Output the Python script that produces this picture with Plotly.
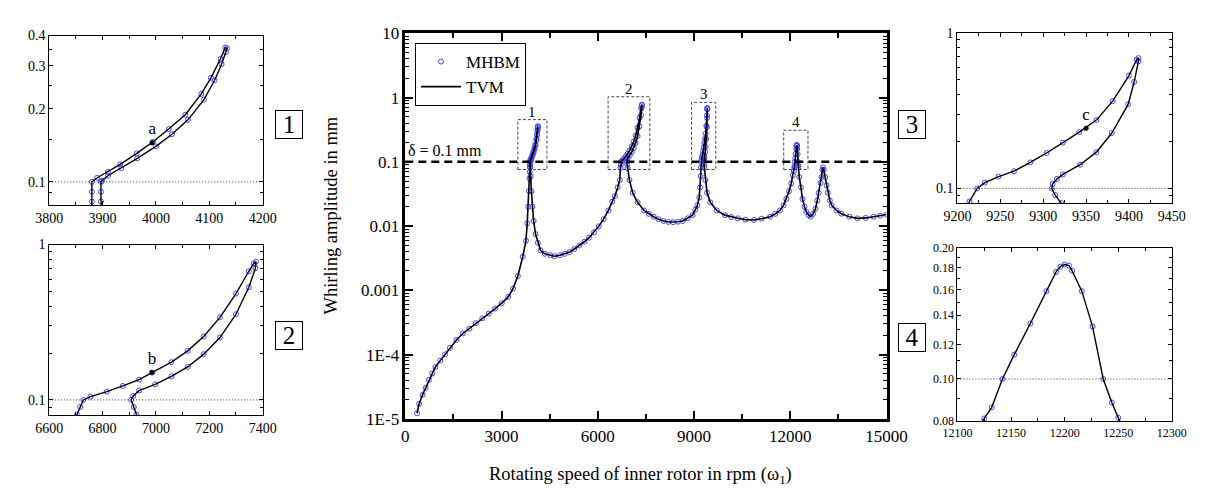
import math
import plotly.graph_objects as go

# ---------------- data ----------------
# one continuous response path (with the hysteresis loops near the peaks)
speed_rpm = [
    363, 432, 535, 635, 736, 837, 938, 1089, 1240, 1391, 1593, 1794, 1996, 2198,
    2399, 2601, 2803, 3004, 3206, 3357, 3508, 3659, 3760, 3800, 3830, 3855, 3870,
    3878, 3880, 3880, 3880,
    # loop 1
    3890, 3910, 3933, 3964, 3994, 4024, 4055, 4085, 4103, 4121, 4130, 4133,
    4131, 4123, 4110, 4090, 4060, 4030, 4000, 3965, 3935, 3910, 3899, 3897, 3897, 3897,
    # valley 1-2
    3905, 3930, 3960, 4000, 4060, 4130, 4214, 4350, 4516, 4650, 4818, 4970, 5121,
    5270, 5423, 5580, 5726, 5880, 6028, 6180, 6330, 6450, 6532, 6620, 6683, 6704, 6716,
    # loop 2
    6728, 6755, 6816, 6876, 6937, 6985, 7058, 7119, 7179, 7240, 7300, 7348, 7367, 7375,
    7373, 7348, 7300, 7240, 7179, 7119, 7058, 6997, 6937, 6915, 6907, 6917, 6927,
    # valley 2-3
    6985, 7086, 7238, 7440, 7590, 7742, 7890, 8044, 8200, 8347, 8500, 8649, 8800,
    8952, 9040, 9103, 9160, 9190, 9205, 9214,
    # loop 3
    9223, 9232, 9248, 9266, 9285, 9304, 9323, 9342, 9362, 9381, 9400, 9409, 9411,
    9411, 9406, 9399, 9380, 9362, 9343, 9323, 9316, 9311, 9310, 9314, 9321,
    # valley 3-4
    9354, 9405, 9506, 9708, 9960, 10160, 10363, 10600, 10867, 11100, 11371, 11530,
    11673, 11790, 11875, 11960, 12026, 12080, 12110, 12125,
    # peak 4
    12132, 12142, 12153, 12168, 12183, 12192, 12196, 12200, 12204, 12207, 12216,
    12226, 12236, 12244, 12250,
    # peak 5 and tail
    12278, 12330, 12379, 12440, 12500, 12570, 12633, 12710, 12784, 12840, 12885,
    12940, 12966, 13000, 13015, 13040, 13086, 13130, 13167, 13230, 13288, 13440,
    13590, 13840, 14093, 14350, 14597, 14800, 15000,
]
amplitude_mm = [
    1.22e-5, 1.71e-5, 2.36e-5, 3.03e-5, 4.04e-5, 5.08e-5, 6.4e-5, 8.05e-5, 1.01e-4,
    1.27e-4, 1.69e-4, 2.13e-4, 2.53e-4, 3.08e-4, 3.66e-4, 4.34e-4, 5.2e-4, 6.3e-4,
    7.9e-4, 1.06e-3, 1.67e-3, 3.33e-3, 5.9e-3, 0.011, 0.02, 0.035, 0.055,
    0.07, 0.083, 0.091, 0.1,
    # loop 1
    0.104, 0.110, 0.118, 0.131, 0.146, 0.165, 0.189, 0.230, 0.268, 0.321, 0.357, 0.355,
    0.342, 0.305, 0.262, 0.218, 0.180, 0.157, 0.140, 0.125, 0.114, 0.106, 0.101, 0.1, 0.091, 0.083,
    # valley 1-2
    0.06, 0.035, 0.02, 0.012, 0.0075, 0.0055, 0.0042, 0.0037, 0.00352, 0.0034, 0.00352,
    0.0037, 0.00395, 0.0044, 0.00498, 0.0057, 0.0066, 0.0080, 0.0099, 0.0128, 0.0175,
    0.024, 0.0293, 0.040, 0.052, 0.0805, 0.09,
    # loop 2
    0.1, 0.105, 0.113, 0.123, 0.135, 0.150, 0.175, 0.207, 0.256, 0.34, 0.483, 0.673, 0.757, 0.775,
    0.705, 0.531, 0.356, 0.252, 0.197, 0.163, 0.142, 0.126, 0.115, 0.106, 0.1, 0.09, 0.0805,
    # valley 2-3
    0.052, 0.033, 0.0234, 0.0175, 0.0155, 0.014, 0.0128, 0.012, 0.0116, 0.0115, 0.0117,
    0.012, 0.0132, 0.0148, 0.018, 0.021, 0.028, 0.040, 0.060, 0.0824,
    # loop 3
    0.1, 0.109, 0.119, 0.129, 0.147, 0.169, 0.197, 0.23, 0.275, 0.364, 0.531, 0.673, 0.689,
    0.655, 0.483, 0.347, 0.227, 0.171, 0.142, 0.123, 0.115, 0.107, 0.1, 0.0906, 0.0805,
    # valley 3-4
    0.052, 0.033, 0.0234, 0.0175, 0.0148, 0.0138, 0.0132, 0.0126, 0.01245, 0.0130, 0.014,
    0.0155, 0.0175, 0.021, 0.0264, 0.035, 0.046, 0.062, 0.072, 0.0812,
    # peak 4
    0.0861, 0.1, 0.1137, 0.134, 0.159, 0.176, 0.181, 0.183, 0.182, 0.177, 0.159,
    0.132, 0.1, 0.0883, 0.0815,
    # peak 5 and tail
    0.058, 0.040, 0.0264, 0.020, 0.0166, 0.0148, 0.014, 0.0155, 0.0186, 0.025, 0.033,
    0.047, 0.058, 0.075, 0.082, 0.075, 0.058, 0.043, 0.033, 0.025, 0.021, 0.0175,
    0.0156, 0.014, 0.0132, 0.0134, 0.014, 0.0145, 0.0151,
]

point_names = ["a", "b", "c"]
point_speed = [3993, 6985, 9350]
point_amp = [0.145, 0.150, 0.244]

delta_mm = 0.1
series_names = ["MHBM", "TVM"]

main_x_ticks = [0, 3000, 6000, 9000, 12000, 15000]
main_y_tickvals = [1e-5, 1e-4, 1e-3, 1e-2, 1e-1, 1, 10]
main_y_ticktext = ["1E-5", "1E-4", "0.001", "0.01", "0.1", "1", "10"]

# ---------------- layout helpers ----------------
W, H = 1213, 491
FONT = "Liberation Serif"
BLUE = "rgb(70,70,255)"


def pxx(x):
    return x / W


def pxy(y):
    return 1 - y / H


fig = go.Figure()

axes = ["", "2", "3", "4", "5"]
for i, s in enumerate(axes):
    main = (s == "")
    fig.add_trace(go.Scatter(
        x=speed_rpm, y=amplitude_mm, mode="markers", name=series_names[0],
        marker=dict(symbol="circle-open", size=5, color=BLUE, line=dict(width=1)),
        xaxis="x" + s, yaxis="y" + s, showlegend=main, hoverinfo="skip"))
    fig.add_trace(go.Scatter(
        x=speed_rpm, y=amplitude_mm, mode="lines", name=series_names[1],
        line=dict(color="black", width=1.6 if main else 1.4),
        xaxis="x" + s, yaxis="y" + s, showlegend=main, hoverinfo="skip"))

# labelled points a, b, c
for name, xs, ys, ax in zip(point_names, point_speed, point_amp, ["2", "3", "4"]):
    fig.add_trace(go.Scatter(
        x=[xs], y=[ys], mode="markers+text", text=[name], textposition="top center",
        textfont=dict(family=FONT, size=17, color="black"),
        marker=dict(size=5, color="black"), xaxis="x" + ax, yaxis="y" + ax,
        showlegend=False, hoverinfo="skip"))

common = dict(showgrid=False, zeroline=False, showline=True, linecolor="black",
              mirror="allticks", ticks="inside", tickcolor="black")


def log_minor(decades):
    vals = []
    for e in decades:
        for k in range(2, 10):
            vals.append(k * 10 ** e)
    return vals


layout = dict(
    width=W, height=H, margin=dict(l=0, r=0, t=0, b=0), autosize=False,
    plot_bgcolor="white", paper_bgcolor="white",
    font=dict(family=FONT, color="black"),
    showlegend=True,
    legend=dict(x=pxx(404), y=pxy(27), xanchor="left", yanchor="top",
                bordercolor="black", borderwidth=1, bgcolor="white",
                font=dict(family=FONT, size=17), itemwidth=40, tracegroupgap=0),
)

# main axes
layout["xaxis"] = dict(common, domain=[pxx(394), pxx(890)], range=[0, 15000],
                       tickvals=main_x_ticks, ticktext=[str(v) for v in main_x_ticks],
                       ticklen=8, tickwidth=2, linewidth=2.5,
                       tickfont=dict(family=FONT, size=17, color="black"), anchor="y",
                       minor=dict(tickvals=[1500, 4500, 7500, 10500, 13500],
                                  ticklen=5, tickwidth=1.5, ticks="inside", tickcolor="black"))
layout["yaxis"] = dict(common, domain=[pxy(418), pxy(17)], type="log", range=[-5, 1],
                       tickvals=main_y_tickvals, ticktext=main_y_ticktext,
                       ticklen=8, tickwidth=2, linewidth=2.5,
                       tickfont=dict(family=FONT, size=17, color="black"),
                       anchor="x",
                       minor=dict(tickvals=log_minor(range(-5, 1)), ticklen=4, tickwidth=1.2,
                                  ticks="inside", tickcolor="black"))

panel_specs = [
    # suffix, x px, y px, x range, x ticks, x minor, y range, y ticks, y text, y minor, font
    ("2", (27, 247), (19.3, 196), (3800, 4200), list(range(3800, 4201, 100)),
     list(range(3850, 4200, 100)), (0.08, 0.4), [0.1, 0.2, 0.3, 0.4],
     ["0.1", "0.2", "0.3", "0.4"], [0.09, 0.15, 0.25, 0.35], 14),
    ("3", (27, 247), (236.7, 414), (6600, 7400), list(range(6600, 7401, 200)),
     list(range(6700, 7400, 200)), (0.08, 1.0), [0.1, 1.0], ["0.1", "1"],
     [0.09] + [k / 10 for k in range(2, 10)], 14),
    ("4", (963, 1184), (16.5, 194), (9200, 9450), list(range(9200, 9451, 50)),
     list(range(9225, 9450, 50)), (0.08, 1.0), [0.1, 1.0], ["0.1", "1"],
     [0.09] + [k / 10 for k in range(2, 10)], 14),
    ("5", (963, 1184), (240, 420.5), (12100, 12300), list(range(12100, 12301, 50)),
     list(range(12125, 12300, 50)), (0.08, 0.2), [0.08, 0.10, 0.12, 0.14, 0.16, 0.18, 0.20],
     ["0.08", "0.10", "0.12", "0.14", "0.16", "0.18", "0.20"],
     [0.09, 0.11, 0.13, 0.15, 0.17, 0.19], 12),
]

shapes = []
for (s, xp, yp, xr, xt, xm, yr, yt, ytxt, ym, fs) in panel_specs:
    layout["xaxis" + s] = dict(common, domain=[pxx(xp[0]), pxx(xp[1])], range=list(xr),
                               tickvals=xt, ticktext=[str(v) for v in xt],
                               ticklen=4, tickwidth=1, linewidth=1,
                               tickfont=dict(family=FONT, size=fs, color="black"),
                               anchor="y" + s,
                               minor=dict(tickvals=xm, ticklen=3, tickwidth=1,
                                          ticks="inside", tickcolor="black"))
    layout["yaxis" + s] = dict(common, domain=[pxy(yp[1]), pxy(yp[0])], type="log",
                               range=[math.log10(yr[0]), math.log10(yr[1])],
                               tickvals=yt, ticktext=ytxt, ticklen=4, tickwidth=1,
                               linewidth=1,
                               tickfont=dict(family=FONT, size=fs, color="black"),
                               anchor="x" + s,
                               minor=dict(tickvals=ym, ticklen=3, tickwidth=1,
                                          ticks="inside", tickcolor="black"))
    shapes.append(dict(type="line", xref="x" + s + " domain", yref="y" + s,
                       x0=0, x1=1, y0=delta_mm, y1=delta_mm,
                       line=dict(color="black", width=0.8, dash="1px,2px")))

# threshold line in main plot
shapes.append(dict(type="line", xref="x domain", yref="y", x0=0, x1=1,
                   y0=delta_mm, y1=delta_mm,
                   line=dict(color="black", width=2.5, dash="8px,5px")))

# zoom boxes in main plot (speed range, amplitude range)
zoom_boxes = [
    ("1", (3508, 4415), (0.076, 0.454)),
    ("2", (6320, 7621), (0.076, 1.03)),
    ("3", (8921, 9677), (0.076, 0.842)),
    ("4", (11794, 12550), (0.076, 0.31)),
]
annotations = []
for lab, (x0, x1), (y0, y1) in zoom_boxes:
    shapes.append(dict(type="rect", xref="x", yref="y", x0=x0, x1=x1, y0=y0, y1=y1,
                       line=dict(color="#444", width=1, dash="3px,2px")))
    annotations.append(dict(xref="x", yref="y", x=(x0 + x1) / 2, y=math.log10(y1),
                            text=lab, showarrow=False, yanchor="bottom", yshift=-2,
                            font=dict(family=FONT, size=15)))

layout["shapes"] = shapes

annotations += [
    dict(xref="paper", yref="paper", x=pxx(317), y=pxy(207), text="Whirling amplitude in mm",
         textangle=-90, showarrow=False, font=dict(family=FONT, size=18.5),
         xanchor="center", yanchor="middle"),
    dict(xref="paper", yref="paper", x=pxx(636), y=pxy(477),
         text="Rotating speed of inner rotor in rpm (ω<sub>1</sub>)",
         showarrow=False, font=dict(family=FONT, size=18.5),
         xanchor="center", yanchor="middle"),
    dict(xref="paper", yref="paper", x=pxx(435), y=pxy(139), text="δ = 0.1 mm",
         showarrow=False, font=dict(family=FONT, size=16), xanchor="center", yanchor="middle"),
]
for lab, cx, cy in [("1", 274, 112), ("2", 274, 331), ("3", 916, 112), ("4", 916, 333)]:
    annotations.append(dict(xref="paper", yref="paper", x=pxx(cx), y=pxy(cy), text=lab,
                            showarrow=False, font=dict(family=FONT, size=25),
                            xanchor="center", yanchor="middle", width=24, height=25,
                            bordercolor="black", borderwidth=1, borderpad=1,
                            bgcolor="white"))
layout["annotations"] = annotations

fig.update_layout(**layout)
fig.write_html("out.html")
